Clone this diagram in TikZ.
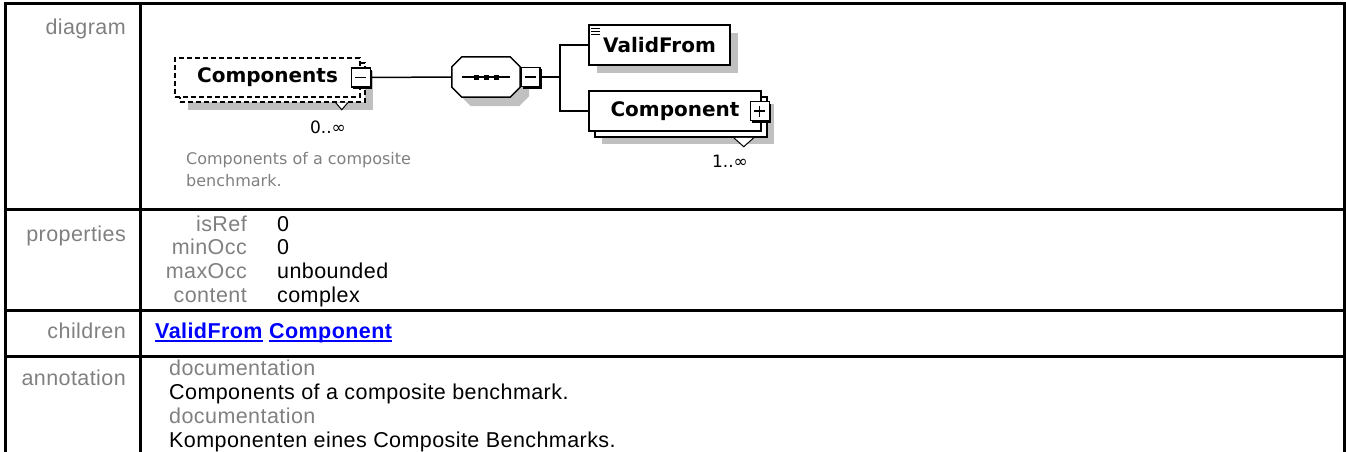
\documentclass[tikz,border=0pt]{standalone}
\usepackage{fontspec}
\setmainfont{Liberation Sans}[LetterSpace=2]
\newfontfamily\diafont{DejaVu Sans}
\usepackage{xcolor}
\usetikzlibrary{calc,positioning,shadows}

\definecolor{labelgray}{HTML}{808080}
\definecolor{shadegray}{HTML}{C0C0C0}
\definecolor{linkblue}{HTML}{0000FF}
\newcommand{\tblsize}{\fontsize{21.5}{24}\selectfont}
\newcommand{\elsize}{\diafont\bfseries\fontsize{20}{22}\selectfont}

\begin{document}
\begin{tikzpicture}[x=1pt,y=-1pt,
  tabline/.style={line width=3pt},
  rowlabel/.style={anchor=base east,inner sep=0pt,text=labelgray,font=\tblsize},
  propval/.style={anchor=base west,inner sep=0pt,font=\tblsize},
  conn/.style={line width=1.5pt},
  elbox/.style={draw,fill=white,line width=1.5pt,minimum height=40pt,inner sep=0pt,font=\elsize},
  optline/.style={dash pattern=on 5pt off 3pt},
  grayshadow/.style={drop shadow={shadow xshift=#1,shadow yshift=-#1,fill=shadegray,opacity=1}},
  togglebox/.style={draw,fill=white,line width=1.3pt,minimum width=19pt,minimum height=19pt,inner sep=0pt,
    drop shadow={shadow xshift=2pt,shadow yshift=-2pt,fill=black,opacity=1}},
  minusbox/.style={togglebox,path picture={
    \draw[line width=1.3pt] ([xshift=4pt]path picture bounding box.west) -- ([xshift=-4pt]path picture bounding box.east);}},
  plusbox/.style={togglebox,path picture={
    \draw[line width=1.3pt] ([xshift=4pt]path picture bounding box.west) -- ([xshift=-4pt]path picture bounding box.east);
    \draw[line width=1.3pt] ([yshift=-4pt]path picture bounding box.north) -- ([yshift=4pt]path picture bounding box.south);}},
  seqframe/.style={minimum width=68pt,minimum height=40pt,inner sep=0pt},
  occlabel/.style={anchor=base,inner sep=0pt,font=\diafont\fontsize{17}{20}\selectfont},
  doctext/.style={anchor=base west,inner sep=0pt,text=labelgray,font=\diafont\fontsize{16}{18}\selectfont}]
\useasboundingbox (0,0) rectangle (1346,452);
\clip (0,0) rectangle (1346,452);

% table frame
\draw[tabline] (5,4) rectangle (1344,470);
\draw[tabline] (140,4) -- (140,470);
\foreach \ry in {209,310,356}
  \draw[tabline] (5,\ry) -- (1344,\ry);

% row labels
\node[rowlabel] (lbldiagram) at (126,35) {diagram};
\node[rowlabel] (lblprops) at (126,241) {properties};
\node[rowlabel] (lblchildren) at (126,338) {children};
\node[rowlabel] (lblannot) at (126,385) {annotation};

% properties
\foreach \key/\val/\ry [count=\i] in {isRef/0/231,minOcc/0/254,maxOcc/unbounded/278,content/complex/302}{
  \node[rowlabel] (key\i) at (247,\ry) {\key};
  \node[propval] (val\i) at (277,\ry) {\val};
}

% children links
\node[propval,text=linkblue,font=\tblsize\bfseries] (linkvalid) at (155,338) {ValidFrom};
\node[propval,text=linkblue,font=\tblsize\bfseries] (linkcomp) at (269,338) {Component};
\foreach \lk in {linkvalid,linkcomp}
  \draw[linkblue,line width=1.8pt] ([yshift=-3pt]\lk.base west) -- ([yshift=-3pt]\lk.base east);

% annotation
\node[propval,text=labelgray] (doc1) at (169,375) {documentation};
\node[propval] (docen) at (169,399) {Components of a composite benchmark.};
\node[propval,text=labelgray] (doc2) at (169,423) {documentation};
\node[propval] (docde) at (169,447) {Komponenten eines Composite Benchmarks.};

% diagram
\node[elbox,optline,minimum width=185pt,minimum height=39pt,grayshadow=13pt,
  copy shadow={shadow xshift=5pt,shadow yshift=-5pt,fill=white,draw,optline,line width=1.5pt}]
  (components) at (267.5,77.5) {Components};
\node[minusbox] (compminus) at (components.east) {};
\draw[line width=1pt,fill=white] ([shift={(-25,5)}]components.south east) -- ++(6,7) -- ++(6,-7);
\node[occlabel] (compocc) at (328,133) {0..∞};
\node[doctext] (compdoc1) at (186,164) {Components of a composite};
\node[doctext] (compdoc2) at (186,186) {benchmark.};

\node[seqframe] (seq) at (486,77) {};
\draw[conn,fill=white,grayshadow=9pt] ([xshift=10pt]seq.north west) -- ([xshift=-10pt]seq.north east)
  -- ([yshift=-10pt]seq.north east) -- ([yshift=10pt]seq.south east)
  -- ([xshift=-10pt]seq.south east) -- ([xshift=10pt]seq.south west)
  -- ([yshift=10pt]seq.south west) -- ([yshift=-10pt]seq.north west) -- cycle;
\draw[conn] ([xshift=10pt]seq.west) -- ([xshift=-10pt]seq.east);
\foreach \dx in {-10,0,10}
  \fill ($(seq.center)+(\dx,0)$) +(-2.5,-2.5) rectangle +(2.5,2.5);
\node[minusbox,right=0pt of seq] (seqminus) {};
\coordinate (fork) at (560,77);
\draw[conn] (compminus.east) -- (seq.west);
\draw[conn] (seqminus.east) -- (fork);

\node[elbox,minimum width=141pt,grayshadow=8pt] (validfrom) at (659.5,45) {ValidFrom};
\foreach \k in {0,1,2}
  \draw[line width=0.9pt] ([shift={(3,4+3*\k)}]validfrom.north west) -- ++(9,0);

\node[elbox,minimum width=172pt,grayshadow=13pt,
  copy shadow={shadow xshift=6pt,shadow yshift=-6pt,fill=white,draw,line width=1.5pt}]
  (component) at (675,111) {Component};
\node[plusbox] (compplus) at ([xshift=-2pt]component.east) {};
\draw[line width=1pt,fill=white] ([shift={(-28,6)}]component.south east) -- ++(10,9) -- ++(10,-9);
\node[occlabel] (compocc2) at (730,167) {1..∞};

\draw[conn] (validfrom.west) -| (fork) |- (component.west);
\end{tikzpicture}
\end{document}
